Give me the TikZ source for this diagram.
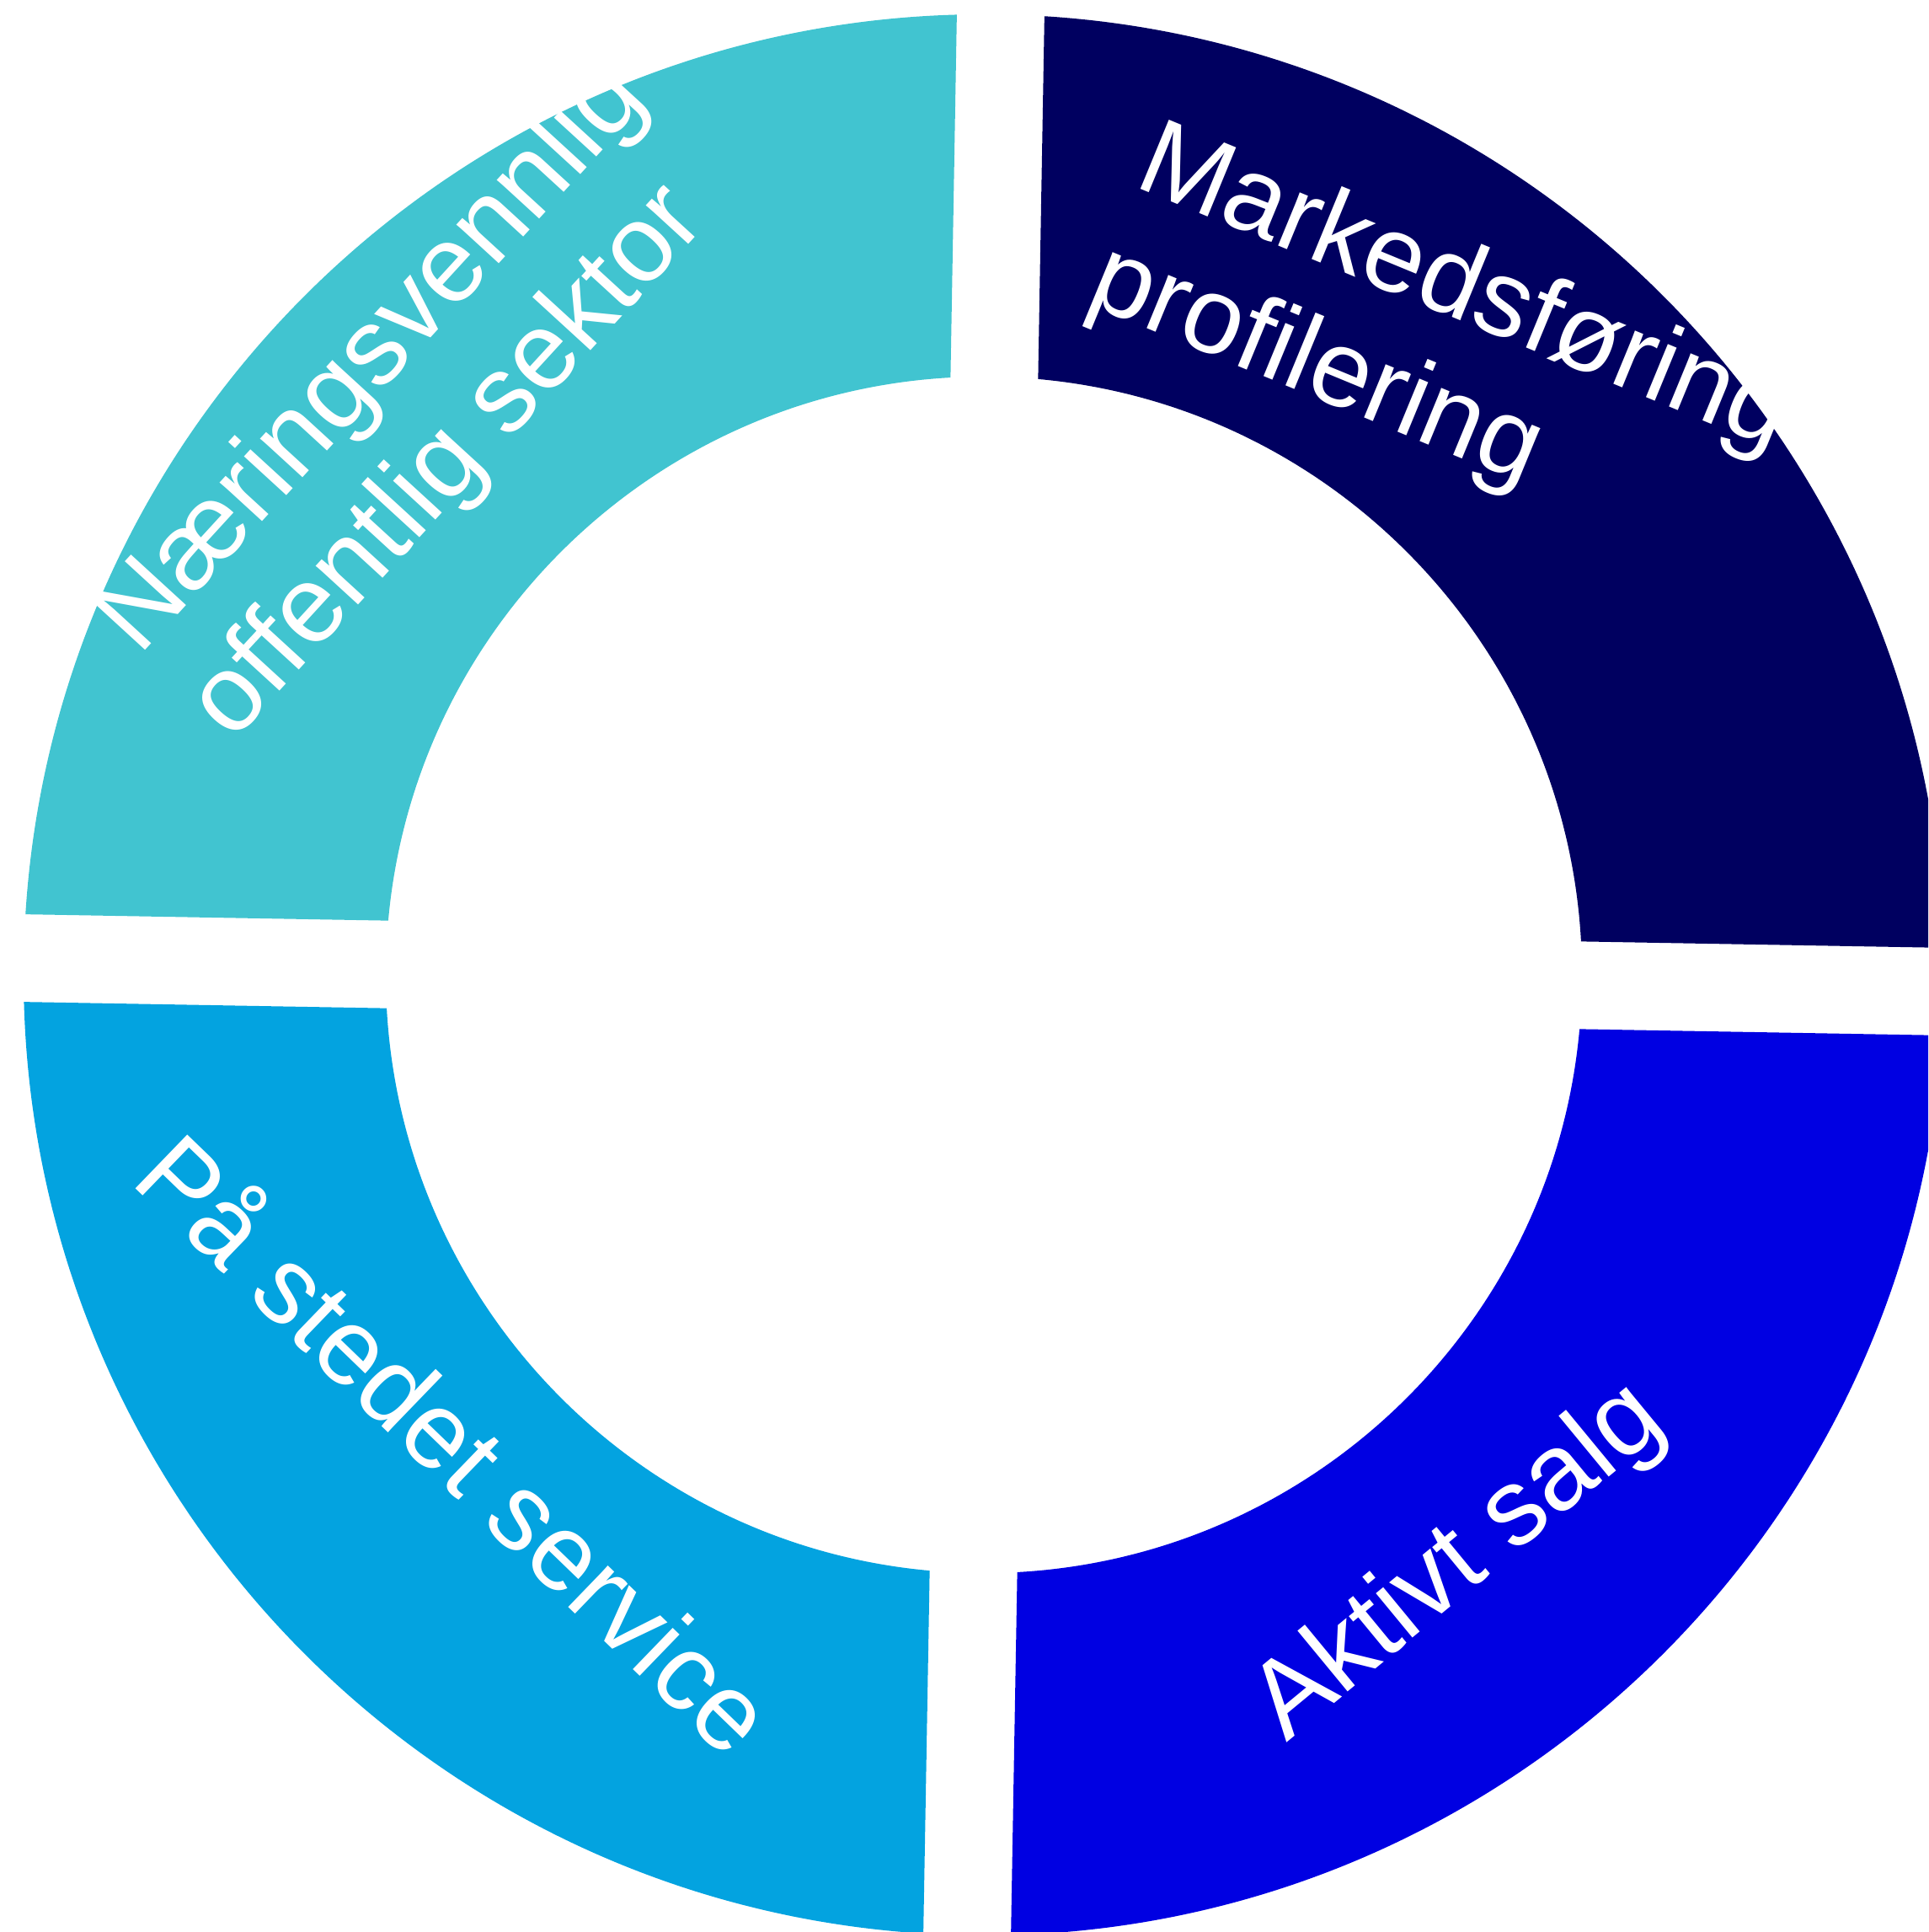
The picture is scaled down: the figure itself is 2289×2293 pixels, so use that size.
\documentclass[tikz,border=0pt]{standalone}
\usepackage{fontspec}
\setmainfont{Liberation Sans}
\usepackage{tikz}
\definecolor{segcyan}{RGB}{65,196,208}
\definecolor{segnavy}{RGB}{0,0,96}
\definecolor{segblue}{RGB}{0,0,226}
\definecolor{seglight}{RGB}{3,163,224}
\tikzset{seglabel/.style={anchor=base west,inner sep=0pt,outer sep=0pt,text=white,font=\fontsize{36.7}{44}\selectfont}}

\begin{document}
\begin{tikzpicture}[x=0.1mm,y=-0.1mm]
\useasboundingbox (0,0) rectangle (2289,2293);
\clip (0,0) rectangle (2289,2293);
\begin{scope}[shift={(1168,1157)},rotate=-1]
\foreach \col/\sx/\sy in {segcyan/-1/-1,segnavy/1/-1,segblue/1/1,seglight/-1/1}{
  \begin{scope}
  \clip (\sx*52,\sy*52) rectangle (\sx*1300,\sy*1300);
  \fill[\col,even odd rule] (0,0) circle[radius=1140] (0,0) circle[radius=710];
  \end{scope}
}
\end{scope}
\node[seglabel,rotate=47.5] (N0) at (165,779) {Næringsvennlig};
\node[seglabel,rotate=47.5] (N1) at (276,881) {offentlig sektor};
\node[seglabel,rotate=-22.4] (M0) at (1344,220) {Markedsføring};
\node[seglabel,rotate=-22.4] (M1) at (1287,359) {profilering};
\node[seglabel,rotate=39.5] (A0) at (1527,2068) {Aktivt salg};
\node[seglabel,rotate=-44] (P0) at (153,1403) {På stedet service};
\end{tikzpicture}
\end{document}
